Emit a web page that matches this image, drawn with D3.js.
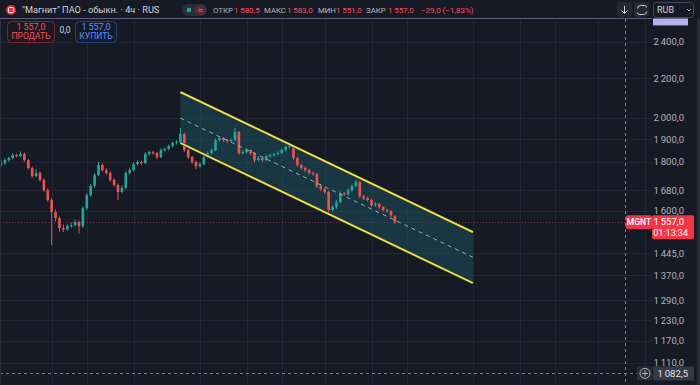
<!DOCTYPE html>
<html>
<head>
<meta charset="utf-8">
<script src="https://cdn.jsdelivr.net/npm/d3@7"></script>
<style>
  body { margin: 0; background: #161a25; }
  svg { display: block; font-family: Roboto, "Noto Sans", sans-serif; }
</style>
</head>
<body>
<div id="chart"></div>
<script>
// 4h candles, MGNT
const opens = [1788,1794,1807,1816,1829,1825,1834,1807,1773,1739, 1752,1723,1681,1642,1595,1572,1535,1530,1542,1546,
  1557,1542,1610,1661,1698,1743,1786,1764,1752,1723, 1702,1674,1690,1752,1764,1790,1799,1794,1834,1842,
  1838,1820,1851,1856,1869,1883,1887,1924,1851,1820, 1799,1781,1790,1820,1838,1851,1896,1905,1896,1892,
  1896,1933,1838,1842,1851,1838,1807,1816,1807,1825, 1829,1834,1838,1851,1865,1869,1816,1786,1773,1764,
  1752,1748,1698,1686,1674,1603,1614,1634,1669,1665, 1681,1698,1714,1657,1649,1642,1622,1626,1614,1603,
  1599,1580.5];
const highs = [1806,1815,1822,1838,1836,1845,1840,1812,1780,1768, 1760,1730,1690,1650,1605,1578,1548,1549,1556,1566,
  1563,1618,1670,1706,1752,1800,1792,1772,1758,1730, 1708,1700,1760,1775,1798,1806,1805,1842,1850,1848,
  1844,1860,1863,1876,1890,1895,1952,1930,1858,1826, 1805,1798,1828,1845,1858,1904,1914,1910,1902,1903,
  1952,1938,1850,1858,1856,1842,1824,1820,1832,1836, 1840,1845,1858,1872,1883,1874,1822,1792,1780,1770,
  1758,1752,1705,1692,1680,1622,1642,1676,1674,1688, 1705,1723,1718,1663,1655,1647,1634,1630,1619,1608,
  1604,1583];
const lows = [1778,1786,1800,1810,1818,1820,1800,1766,1732,1734, 1716,1675,1634,1473,1560,1522,1520,1525,1536,1540,
  1515,1535,1602,1655,1690,1738,1758,1745,1716,1695, 1642,1668,1684,1746,1758,1784,1786,1790,1826,1830,
  1812,1815,1844,1850,1862,1876,1880,1842,1812,1790, 1768,1775,1784,1814,1832,1846,1888,1888,1884,1886,
  1890,1830,1832,1836,1830,1798,1802,1798,1802,1818, 1822,1828,1832,1845,1858,1808,1778,1766,1756,1745,
  1740,1690,1678,1666,1587,1598,1608,1628,1658,1660, 1675,1692,1650,1642,1636,1615,1616,1608,1597,1592,
  1576,1551];
const closes = [1794,1807,1816,1829,1825,1834,1807,1773,1739,1752, 1723,1681,1642,1595,1572,1535,1530,1542,1546,1557,
  1542,1610,1661,1698,1743,1786,1764,1752,1723,1702, 1674,1690,1752,1764,1790,1799,1794,1834,1842,1838,
  1820,1851,1856,1869,1883,1887,1924,1851,1820,1799, 1781,1790,1820,1838,1851,1896,1905,1896,1892,1896,
  1933,1838,1842,1851,1838,1807,1816,1807,1825,1829, 1834,1838,1851,1865,1869,1816,1786,1773,1764,1752,
  1748,1698,1686,1674,1603,1614,1634,1669,1665,1681, 1698,1714,1657,1649,1642,1622,1626,1614,1603,1599,
  1583,1557];

const priceTicks = [2400, 2200, 2000, 1900, 1800, 1680, 1600, 1445, 1370, 1290, 1230, 1170, 1110];
const timeGrid = [13, 22, 34, 51, 63, 72, 83, 95, 104, 121, 133, 142, 153, 165];

// parallel channel (bar index, price)
const channelIdx = [46, 121];
const channelTop = [2128, 1520];
const channelMid = [1999, 1431];
const channelBottom = [1883, 1345];

const alertPrice = 2540;
const crossIdx = 160;
const crossPrice = 1082.5;
const change = -29.0;
const changePct = -1.83;
const countdown = '01:13:34';

const W = 700, H = 385;
const plotRight = 652;
const up = '#26a69a', down = '#ef5350';

const ru = d3.formatLocale({ decimal: ',', thousands: '\u2009', grouping: [3], currency: ['', ''] });
const fmt = ru.format(',.1f');

const x = d3.scaleLinear().domain([0, 167]).range([1, 652.3]);
const y = d3.scaleLog().domain([1110, 2400]).range([363, 42]);

const svg = d3.select('#chart').append('svg')
  .attr('width', W)
  .attr('height', H);

svg.append('rect').attr('width', W).attr('height', H).attr('fill', '#161a25');

svg.append('defs').append('clipPath').attr('id', 'plot-clip')
  .append('rect').attr('x', 0).attr('y', 0).attr('width', plotRight).attr('height', H);

const plot = svg.append('g').attr('clip-path', 'url(#plot-clip)');

// grid
plot.append('g').selectAll('line')
  .data(priceTicks)
  .join('line')
  .attr('x1', 0).attr('x2', plotRight)
  .attr('y1', d => Math.round(y(d)) + 0.5).attr('y2', d => Math.round(y(d)) + 0.5)
  .attr('stroke', '#222633');

plot.append('g').selectAll('line')
  .data(timeGrid)
  .join('line')
  .attr('x1', d => Math.round(x(d)) + 0.5).attr('x2', d => Math.round(x(d)) + 0.5)
  .attr('y1', 20).attr('y2', H)
  .attr('stroke', '#222633');

// horizontal alert line
plot.append('line')
  .attr('x1', 0).attr('x2', plotRight)
  .attr('y1', Math.round(y(alertPrice)) + 0.5).attr('y2', Math.round(y(alertPrice)) + 0.5)
  .attr('stroke', '#a79ede').attr('stroke-width', 1);

// last price line
const lastClose = closes[closes.length - 1];
plot.append('line')
  .attr('x1', 0).attr('x2', plotRight)
  .attr('y1', Math.round(y(lastClose)) + 0.5).attr('y2', Math.round(y(lastClose)) + 0.5)
  .attr('stroke', '#7a3442').attr('stroke-dasharray', '1 2');

// channel fill
const fillPts = [
  [x(channelIdx[0]), y(channelTop[0])],
  [x(channelIdx[1]), y(channelTop[1])],
  [x(channelIdx[1]), y(channelBottom[1])],
  [x(channelIdx[0]), y(channelBottom[0])]
];
plot.append('path')
  .attr('d', d3.line()(fillPts) + 'Z')
  .attr('fill', '#1b5c66')
  .attr('fill-opacity', 0.45);

// candles
const candles = d3.range(closes.length).map(i => ({
  i, o: opens[i], h: highs[i], l: lows[i], c: closes[i]
}));

const cg = plot.append('g');
cg.selectAll('line')
  .data(candles)
  .join('line')
  .attr('x1', d => x(d.i)).attr('x2', d => x(d.i))
  .attr('y1', d => y(d.h)).attr('y2', d => y(d.l))
  .attr('stroke', d => d.c >= d.o ? up : down)
  .attr('stroke-width', 1);

cg.selectAll('rect')
  .data(candles)
  .join('rect')
  .attr('x', d => x(d.i) - 1.3)
  .attr('width', 2.6)
  .attr('y', d => y(Math.max(d.o, d.c)))
  .attr('height', d => Math.max(1, Math.abs(y(d.o) - y(d.c))))
  .attr('fill', d => d.c >= d.o ? up : down);

// channel lines
const seg = (prices) => d3.line()(channelIdx.map((d, k) => [x(d), y(prices[k])]));
plot.append('path').attr('d', seg(channelMid))
  .attr('stroke', '#8fb3ad').attr('stroke-width', 1).attr('stroke-dasharray', '4 4').attr('fill', 'none');
[channelTop, channelBottom].forEach(p => {
  plot.append('path').attr('d', seg(p))
    .attr('stroke', '#3a3a1a').attr('stroke-width', 3).attr('fill', 'none');
  plot.append('path').attr('d', seg(p))
    .attr('stroke', '#ede35a').attr('stroke-width', 1.8).attr('fill', 'none');
});

// crosshair
plot.append('line')
  .attr('x1', Math.round(x(crossIdx)) + 0.5).attr('x2', Math.round(x(crossIdx)) + 0.5)
  .attr('y1', 19).attr('y2', H)
  .attr('stroke', '#7b7e89').attr('stroke-dasharray', '3 3');
plot.append('line')
  .attr('x1', 0).attr('x2', plotRight)
  .attr('y1', Math.round(y(crossPrice)) + 0.5).attr('y2', Math.round(y(crossPrice)) + 0.5)
  .attr('stroke', '#7b7e89').attr('stroke-dasharray', '3 3');

// left/right borders
svg.append('line').attr('x1', 0.5).attr('x2', 0.5).attr('y1', 20).attr('y2', H).attr('stroke', '#2a2e39');
svg.append('line').attr('x1', 698.5).attr('x2', 698.5).attr('y1', 0).attr('y2', H).attr('stroke', '#2e323d').attr('stroke-width', 2);

// price axis
const axis = svg.append('g');
axis.selectAll('text')
  .data(priceTicks)
  .join('text')
  .attr('x', 684)
  .attr('y', d => y(d))
  .attr('dy', '0.35em')
  .attr('text-anchor', 'end')
  .attr('font-size', 9.5)
  .attr('fill', '#b2b5be')
  .text(d => fmt(d));

// alert label (mostly hidden by the header)
axis.append('rect')
  .attr('x', 653).attr('y', y(alertPrice) - 7).attr('width', 35).attr('height', 14)
  .attr('fill', '#b9b0ee');

// last price labels
const ly = y(lastClose);
svg.append('rect').attr('x', 626).attr('y', ly - 7).attr('width', 26).attr('height', 14).attr('rx', 2).attr('fill', '#f23645');
svg.append('text').attr('x', 639).attr('y', ly).attr('dy', '0.35em').attr('text-anchor', 'middle')
  .attr('font-size', 8.5).attr('font-weight', 500).attr('fill', '#fff').text('MGNT');
svg.append('rect').attr('x', 652).attr('y', ly - 7).attr('width', 42).attr('height', 24).attr('rx', 2).attr('fill', '#f23645');
svg.append('text').attr('x', 684).attr('y', ly).attr('dy', '0.35em').attr('text-anchor', 'end')
  .attr('font-size', 9.5).attr('fill', '#fff').text(fmt(lastClose));
svg.append('text').attr('x', 688).attr('y', ly + 11).attr('dy', '0.35em').attr('text-anchor', 'end')
  .attr('font-size', 9).attr('fill', '#fff').text(countdown);

// crosshair price label
const cy = y(crossPrice);
svg.append('rect').attr('x', 637).attr('y', cy - 7).attr('width', 15).attr('height', 14).attr('fill', '#2a2e39');
svg.append('circle').attr('cx', 645).attr('cy', cy).attr('r', 5).attr('fill', 'none').attr('stroke', '#b2b5be');
svg.append('path').attr('d', `M642,${cy}h6M645,${cy - 3}v6`).attr('stroke', '#b2b5be');
svg.append('rect').attr('x', 653).attr('y', cy - 7).attr('width', 41).attr('height', 14).attr('fill', '#363a45');
svg.append('text').attr('x', 688).attr('y', cy).attr('dy', '0.35em').attr('text-anchor', 'end')
  .attr('font-size', 9.5).attr('fill', '#e0e3eb').text(fmt(crossPrice));

// header
const header = svg.append('g');
header.append('rect').attr('x', 0).attr('y', 0).attr('width', W).attr('height', 18.5).attr('fill', '#161a25');
header.append('circle').attr('cx', 11).attr('cy', 10).attr('r', 5).attr('fill', '#e0323f');
header.append('rect').attr('x', 8.5).attr('y', 7.5).attr('width', 5).attr('height', 5).attr('rx', 1)
  .attr('fill', 'none').attr('stroke', '#fff').attr('stroke-width', 1);
header.append('text').attr('x', 22).attr('y', 10).attr('dy', '0.35em')
  .attr('font-size', 9.2).attr('fill', '#d1d4dc')
  .text('"Магнит" ПАО - обыкн. · 4ч · RUS');

header.append('rect').attr('x', 182).attr('y', 4).attr('width', 25).attr('height', 12).attr('rx', 6).attr('fill', '#2a2e39');
header.append('circle').attr('cx', 189).attr('cy', 10).attr('r', 2.3).attr('fill', '#22ab94');
header.append('rect').attr('x', 195).attr('y', 5).attr('width', 11).attr('height', 10).attr('rx', 5).attr('fill', '#5a2a3a');
header.append('text').attr('x', 200.5).attr('y', 10).attr('dy', '0.35em').attr('text-anchor', 'middle')
  .attr('font-size', 9).attr('fill', '#f7525f').text('≈');

const last = closes.length - 1;
const ohlc = [
  ['ОТКР', opens[last], 213, 234],
  ['МАКС', highs[last], 264, 287],
  ['МИН', lows[last], 318, 336],
  ['ЗАКР', closes[last], 366, 388]
];
ohlc.forEach(([label, v, lx, vx]) => {
  header.append('text').attr('x', lx).attr('y', 10).attr('dy', '0.35em').attr('font-size', 7.8)
    .attr('fill', '#b2b5be').text(label);
  header.append('text').attr('x', vx).attr('y', 10).attr('dy', '0.35em').attr('font-size', 8)
    .attr('fill', '#f7525f').text(fmt(v));
});
header.append('text').attr('x', 421).attr('y', 10).attr('dy', '0.35em').attr('font-size', 8)
  .attr('fill', '#f7525f')
  .text(`${fmt(change)} (${ru.format('.2f')(changePct)}%)`);

// top-right buttons
header.append('rect').attr('x', 617).attr('y', 2).attr('width', 15).attr('height', 15).attr('rx', 3).attr('fill', '#242833');
header.append('path').attr('d', 'M624.5,6v7M621.5,10.5l3,3l3,-3').attr('stroke', '#d1d4dc').attr('fill', 'none');
header.append('rect').attr('x', 634).attr('y', 2).attr('width', 15).attr('height', 15).attr('rx', 3).attr('fill', '#242833');
header.append('path').attr('d', 'M637.5,8.5q0,-3 3,-3h4q2,0 2,2M646.5,11.5q0,3 -3,3h-4q-2,0 -2,-2')
  .attr('stroke', '#d1d4dc').attr('fill', 'none');
header.append('rect').attr('x', 653.5).attr('y', 2.5).attr('width', 40).attr('height', 15).attr('rx', 3)
  .attr('fill', '#161a25').attr('stroke', '#434651');
header.append('text').attr('x', 657).attr('y', 10).attr('dy', '0.35em').attr('font-size', 9)
  .attr('fill', '#d1d4dc').text('RUB');
header.append('path').attr('d', 'M687,9l2,2l2,-2').attr('stroke', '#b2b5be').attr('fill', 'none');

// sell / buy boxes
const trade = svg.append('g');
trade.append('rect').attr('x', 7.5).attr('y', 21.5).attr('width', 47).attr('height', 21).attr('rx', 4)
  .attr('fill', '#1c1820').attr('stroke', '#7d2630');
trade.append('text').attr('x', 31).attr('y', 27).attr('dy', '0.35em').attr('text-anchor', 'middle')
  .attr('font-size', 9).attr('fill', '#f7525f').text(fmt(lastClose));
trade.append('text').attr('x', 31).attr('y', 36.5).attr('dy', '0.35em').attr('text-anchor', 'middle')
  .attr('font-size', 8.5).attr('fill', '#f7525f').text('ПРОДАТЬ');
trade.append('text').attr('x', 65).attr('y', 30).attr('dy', '0.35em').attr('text-anchor', 'middle')
  .attr('font-size', 8.5).attr('fill', '#d1d4dc').text(fmt(0));
trade.append('rect').attr('x', 75.5).attr('y', 21.5).attr('width', 41).attr('height', 21).attr('rx', 4)
  .attr('fill', '#161b2a').attr('stroke', '#23407e');
trade.append('text').attr('x', 96).attr('y', 27).attr('dy', '0.35em').attr('text-anchor', 'middle')
  .attr('font-size', 9).attr('fill', '#5b8cff').text(fmt(lastClose));
trade.append('text').attr('x', 96).attr('y', 36.5).attr('dy', '0.35em').attr('text-anchor', 'middle')
  .attr('font-size', 8.5).attr('fill', '#5b8cff').text('КУПИТЬ');
</script>
</body>
</html>
